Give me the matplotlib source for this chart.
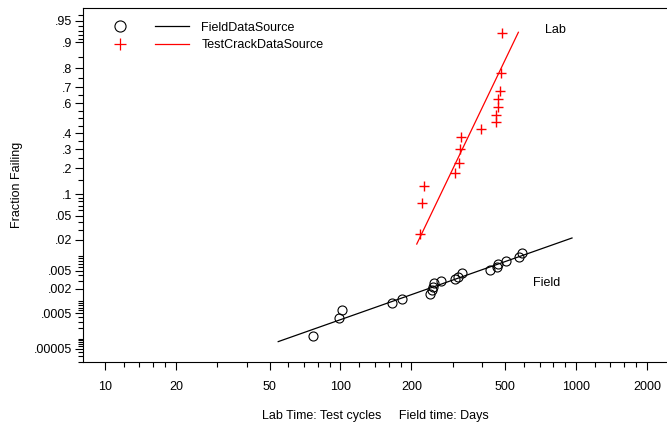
import math
import numpy as np
import matplotlib
matplotlib.use("Agg")
import matplotlib.pyplot as plt
from matplotlib.lines import Line2D
from matplotlib.legend_handler import HandlerTuple

plt.rcParams['font.family'] = ['Liberation Sans', 'DejaVu Sans']
plt.rcParams['font.size'] = 9

# field data: time in days, fraction failing
field_time = [76.6, 98.1, 101.2, 165, 182, 241, 243.4, 247, 250.6, 267,
              306, 314, 328, 431, 460, 466, 504, 574, 590]
field_frac = [1.21e-4, 3.66e-4, 6.2e-4, 8.9e-4, 1.14e-3, 1.48e-3, 1.87e-3,
              2.23e-3, 2.64e-3, 2.93e-3, 3.29e-3, 3.72e-3, 4.43e-3, 5.2e-3,
              6.1e-3, 6.93e-3, 7.97e-3, 9.49e-3, 1.145e-2]

# lab data: test cycles, fraction failing
lab_time = [217.6, 221.8, 226.2, 306.4, 319.6, 321.8, 324, 395, 456.6,
            458.8, 466.5, 466.5, 475.6, 480, 483.7]
lab_frac = [0.0253, 0.0755, 0.1273, 0.1762, 0.2263, 0.3016, 0.3775, 0.4257,
            0.4765, 0.5235, 0.573, 0.627, 0.679, 0.7757, 0.9255]

# lognormal fits (log10 mean, log10 sigma, time range of the line)
field_fit = (4.424, 0.713, 54.4, 961)
lab_fit = (2.580, 0.1207, 210.7, 569)

x_major = [10, 20, 50, 100, 200, 500, 1000, 2000]
x_minor = [12, 14, 16, 18, 30, 40, 60, 70, 80, 90,
           120, 140, 160, 180, 300, 400, 600, 700, 800, 900,
           1200, 1400, 1600, 1800]
y_major = [.95, .9, .8, .7, .6, .4, .3, .2, .1, .05, .02, .005, .002, .0005, .00005]
y_labels = ['.95', '.9', '.8', '.7', '.6', '.4', '.3', '.2', '.1', '.05', '.02',
            '.005', '.002', '.0005', '.00005']
y_minor = [.96, .94, .93, .92, .91, .85, .75, .65, .55, .5, .45, .35, .25, .15,
           .09, .08, .07, .06, .04, .03, .01, .009, .008, .007, .006,
           .004, .003, .001, .0009, .0008, .0007, .0006, .0004, .0003, .0002,
           .0001, .00009, .00008, .00007, .00006, .00004, .00003, .00002]


def norm_ppf(p):
    p = np.clip(np.asarray(p, dtype=float), 1e-12, 1 - 1e-12)
    a = [-3.969683028665376e+01, 2.209460984245205e+02, -2.759285104469687e+02,
         1.383577518672690e+02, -3.066479806614716e+01, 2.506628277459239e+00]
    b = [-5.447609879822406e+01, 1.615858368580409e+02, -1.556989798598866e+02,
         6.680131188771972e+01, -1.328068155288572e+01]
    c = [-7.784894002430293e-03, -3.223964580411365e-01, -2.400758277161838e+00,
         -2.549732539343734e+00, 4.374664141464968e+00, 2.938163982698783e+00]
    d = [7.784695709041462e-03, 3.224671290700398e-01, 2.445134137142996e+00,
         3.754408661907416e+00]
    q = np.minimum(p, 1 - p)
    t = np.sqrt(-2 * np.log(q))
    tail = ((((((c[0]*t + c[1])*t + c[2])*t + c[3])*t + c[4])*t + c[5])
            / ((((d[0]*t + d[1])*t + d[2])*t + d[3])*t + 1))
    tail = np.where(p < 0.5, tail, -tail)
    s = p - 0.5
    r = s * s
    central = ((((((a[0]*r + a[1])*r + a[2])*r + a[3])*r + a[4])*r + a[5]) * s
               / (((((b[0]*r + b[1])*r + b[2])*r + b[3])*r + b[4])*r + 1))
    return np.where(q < 0.02425, tail, central)


_erf = np.vectorize(math.erf)


def norm_cdf(z):
    z = np.asarray(z, dtype=float)
    return 0.5 * (1 + _erf(z / math.sqrt(2)))


def fit_line(fit):
    mu, sigma, lo, hi = fit
    t = np.geomspace(lo, hi, 60)
    return t, norm_cdf((np.log10(t) - mu) / sigma)


fig = plt.figure(figsize=(6.67, 4.23), dpi=100)
ax = fig.add_axes([0.1244, 0.1442, 0.8756, 0.8369])
ax.set_xscale('log')
ax.set_yscale('function', functions=(norm_ppf, norm_cdf))

ax.plot(field_time, field_frac, 'o', mfc='none', mec='black', ms=6.5, mew=0.8)
ax.plot(lab_time, lab_frac, '+', color='red', ms=7.5, mew=1.0)
t, f = fit_line(field_fit)
ax.plot(t, f, color='black', lw=0.9)
t, f = fit_line(lab_fit)
ax.plot(t, f, color='red', lw=0.9)

ax.text(738, 0.932, 'Lab', va='center', ha='left')
ax.text(656, 0.00272, 'Field', va='center', ha='left')

ax.set_xlim(8.07, 2432)
ax.set_ylim(1.94e-5, 0.9686)

ax.set_xticks(x_major, labels=[str(v) for v in x_major])
ax.set_xticks(x_minor, minor=True)
ax.set_xticklabels([], minor=True)
ax.set_yticks(y_major, labels=y_labels)
ax.set_yticks(y_minor, minor=True)
ax.set_yticklabels([], minor=True)

ax.tick_params(which='major', direction='out', length=6, width=0.8)
ax.tick_params(which='minor', direction='out', length=3.5, width=0.8)
ax.tick_params(axis='x', which='major', pad=8)
ax.tick_params(axis='y', which='major', pad=2)
ax.spines['right'].set_visible(False)

ax.set_ylabel('Fraction Failing', labelpad=8)
ax.set_xlabel('Lab Time: Test cycles     Field time: Days', labelpad=12)

circ = Line2D([], [], ls='none', marker='o', mfc='none', mec='black', ms=8, mew=0.8)
plus = Line2D([], [], ls='none', marker='+', color='red', ms=9, mew=0.9)
bl = Line2D([], [], color='black', lw=0.9)
rl = Line2D([], [], color='red', lw=0.9)
ax.legend([(circ, bl), (plus, rl)], ['FieldDataSource', 'TestCrackDataSource'],
          handler_map={tuple: HandlerTuple(ndivide=2, pad=1.44)},
          handlelength=6.9, handletextpad=1.0, labelspacing=0.45,
          loc='upper left', bbox_to_anchor=(0.025, 0.975), borderaxespad=0,
          frameon=False)

fig.savefig('out.png', dpi=100)
